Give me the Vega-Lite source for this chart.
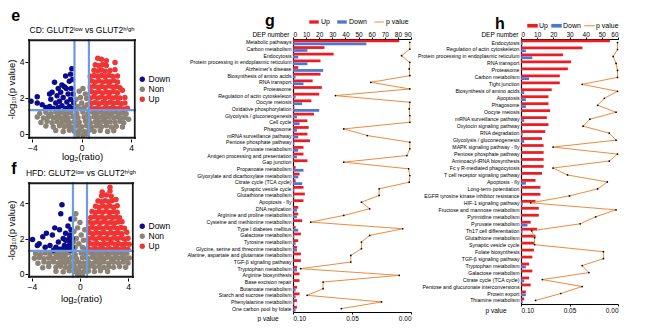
{
"$schema":"https://vega.github.io/schema/vega-lite/v6.json",
"padding":{"left":6,"top":8,"right":0,"bottom":0},
"config":{"font":"Liberation Sans, DejaVu Sans","view":{"stroke":null},"axis":{"grid":false,"domainColor":"black","tickColor":"black","labelColor":"black","titleColor":"black","titleFontWeight":"normal"},"legend":{"labelColor":"black"},"title":{"color":"black"}},
"datasets":{
"e":[
{"x":-3.4,"y":1.12,"c":"Non"},{"x":-2.9,"y":1.18,"c":"Non"},{"x":-2.5,"y":1.1,"c":"Non"},{"x":-2.1,"y":1.2,"c":"Non"},{"x":-1.8,"y":1.13,"c":"Non"},{"x":-1.5,"y":1.19,"c":"Non"},{"x":-1.2,"y":1.1,"c":"Non"},{"x":-0.9,"y":1.17,"c":"Non"},{"x":-0.4,"y":1.12,"c":"Non"},{"x":0.1,"y":1.2,"c":"Non"},{"x":0.5,"y":1.1,"c":"Non"},{"x":0.9,"y":1.18,"c":"Non"},{"x":1.2,"y":1.12,"c":"Non"},{"x":1.5,"y":1.2,"c":"Non"},{"x":1.8,"y":1.1,"c":"Non"},{"x":2.1,"y":1.17,"c":"Non"},{"x":2.4,"y":1.12,"c":"Non"},{"x":2.7,"y":1.2,"c":"Non"},{"x":3.0,"y":1.1,"c":"Non"},{"x":3.3,"y":1.16,"c":"Non"},{"x":3.6,"y":1.1,"c":"Non"},
{"x":-3.6,"y":0.92,"c":"Non"},{"x":-3.1,"y":0.86,"c":"Non"},{"x":-2.7,"y":0.94,"c":"Non"},{"x":-2.3,"y":0.88,"c":"Non"},{"x":-2.0,"y":0.93,"c":"Non"},{"x":-1.7,"y":0.86,"c":"Non"},{"x":-1.4,"y":0.91,"c":"Non"},{"x":-1.1,"y":0.87,"c":"Non"},{"x":-0.7,"y":0.94,"c":"Non"},{"x":-0.3,"y":0.88,"c":"Non"},{"x":0.2,"y":0.92,"c":"Non"},{"x":0.6,"y":0.86,"c":"Non"},{"x":1.0,"y":0.93,"c":"Non"},{"x":1.3,"y":0.88,"c":"Non"},{"x":1.6,"y":0.92,"c":"Non"},{"x":1.9,"y":0.86,"c":"Non"},{"x":2.2,"y":0.94,"c":"Non"},{"x":2.6,"y":0.88,"c":"Non"},{"x":2.9,"y":0.92,"c":"Non"},{"x":3.2,"y":0.86,"c":"Non"},{"x":3.5,"y":0.9,"c":"Non"},{"x":3.8,"y":0.8,"c":"Non"},
{"x":-3.3,"y":0.62,"c":"Non"},{"x":-2.8,"y":0.68,"c":"Non"},{"x":-2.4,"y":0.6,"c":"Non"},{"x":-2.0,"y":0.67,"c":"Non"},{"x":-1.6,"y":0.63,"c":"Non"},{"x":-1.3,"y":0.69,"c":"Non"},{"x":-1.0,"y":0.61,"c":"Non"},{"x":-0.6,"y":0.66,"c":"Non"},{"x":-0.2,"y":0.63,"c":"Non"},{"x":0.3,"y":0.68,"c":"Non"},{"x":0.7,"y":0.6,"c":"Non"},{"x":1.1,"y":0.66,"c":"Non"},{"x":1.4,"y":0.62,"c":"Non"},{"x":1.7,"y":0.68,"c":"Non"},{"x":2.0,"y":0.61,"c":"Non"},{"x":2.3,"y":0.66,"c":"Non"},{"x":2.7,"y":0.63,"c":"Non"},{"x":3.1,"y":0.68,"c":"Non"},{"x":3.4,"y":0.6,"c":"Non"},
{"x":-2.9,"y":0.42,"c":"Non"},{"x":-2.3,"y":0.36,"c":"Non"},{"x":-1.8,"y":0.43,"c":"Non"},{"x":-1.4,"y":0.38,"c":"Non"},{"x":-1.1,"y":0.44,"c":"Non"},{"x":-0.8,"y":0.37,"c":"Non"},{"x":-0.4,"y":0.42,"c":"Non"},{"x":0.0,"y":0.38,"c":"Non"},{"x":0.4,"y":0.43,"c":"Non"},{"x":0.8,"y":0.36,"c":"Non"},{"x":1.2,"y":0.42,"c":"Non"},{"x":1.6,"y":0.38,"c":"Non"},{"x":2.0,"y":0.44,"c":"Non"},{"x":2.4,"y":0.37,"c":"Non"},{"x":2.8,"y":0.41,"c":"Non"},{"x":3.3,"y":0.36,"c":"Non"},
{"x":-2.1,"y":0.17,"c":"Non"},{"x":-1.5,"y":0.12,"c":"Non"},{"x":-1.0,"y":0.18,"c":"Non"},{"x":-0.6,"y":0.13,"c":"Non"},{"x":-0.2,"y":0.16,"c":"Non"},{"x":0.2,"y":0.12,"c":"Non"},{"x":0.6,"y":0.18,"c":"Non"},{"x":1.0,"y":0.13,"c":"Non"},{"x":1.5,"y":0.17,"c":"Non"},{"x":2.1,"y":0.12,"c":"Non"},{"x":2.6,"y":0.16,"c":"Non"},
{"x":-0.3,"y":-0.05,"c":"Non"},{"x":0.1,"y":-0.08,"c":"Non"},{"x":0.4,"y":-0.02,"c":"Non"},
{"x":-0.3,"y":1.5,"c":"Non"},{"x":0.0,"y":1.7,"c":"Non"},{"x":0.2,"y":1.45,"c":"Non"},{"x":-0.1,"y":2.0,"c":"Non"},{"x":0.3,"y":2.2,"c":"Non"},{"x":-0.45,"y":1.9,"c":"Non"},{"x":0.45,"y":1.6,"c":"Non"},{"x":0.1,"y":2.5,"c":"Non"},{"x":-0.2,"y":2.35,"c":"Non"},{"x":0.4,"y":1.95,"c":"Non"},{"x":-0.5,"y":1.45,"c":"Non"},{"x":0.0,"y":1.35,"c":"Non"},
{"x":-4.1,"y":1.8,"c":"Down"},{"x":-3.6,"y":2.05,"c":"Down"},{"x":-3.6,"y":1.7,"c":"Down"},{"x":-3.2,"y":1.6,"c":"Down"},{"x":-2.9,"y":1.45,"c":"Down"},{"x":-2.6,"y":1.5,"c":"Down"},{"x":-2.5,"y":1.9,"c":"Down"},{"x":-2.4,"y":2.3,"c":"Down"},{"x":-2.2,"y":2.85,"c":"Down"},{"x":-2.3,"y":1.4,"c":"Down"},{"x":-2.1,"y":1.7,"c":"Down"},{"x":-2.0,"y":2.1,"c":"Down"},{"x":-1.9,"y":1.45,"c":"Down"},{"x":-1.8,"y":1.8,"c":"Down"},{"x":-1.7,"y":2.3,"c":"Down"},{"x":-1.6,"y":1.55,"c":"Down"},{"x":-1.5,"y":2.0,"c":"Down"},{"x":-1.4,"y":2.6,"c":"Down"},{"x":-1.3,"y":3.2,"c":"Down"},{"x":-1.3,"y":1.4,"c":"Down"},{"x":-1.2,"y":1.75,"c":"Down"},{"x":-1.1,"y":2.2,"c":"Down"},{"x":-1.0,"y":2.9,"c":"Down"},{"x":-1.0,"y":1.5,"c":"Down"},{"x":-0.9,"y":1.9,"c":"Down"},{"x":-0.85,"y":2.5,"c":"Down"},{"x":-0.8,"y":3.6,"c":"Down"},{"x":-0.75,"y":3.0,"c":"Down"},{"x":-0.7,"y":1.4,"c":"Down"},{"x":-0.7,"y":2.2,"c":"Down"},{"x":-0.65,"y":1.7,"c":"Down"},{"x":-1.25,"y":2.5,"c":"Down"},{"x":-1.6,"y":2.7,"c":"Down"},{"x":-1.9,"y":2.5,"c":"Down"},{"x":-2.6,"y":2.2,"c":"Down"},{"x":-0.9,"y":3.3,"c":"Down"},
{"x":0.7,"y":1.42,"c":"Up"},{"x":1.0,"y":1.38,"c":"Up"},{"x":1.3,"y":1.44,"c":"Up"},{"x":1.6,"y":1.37,"c":"Up"},{"x":1.9,"y":1.43,"c":"Up"},{"x":2.2,"y":1.39,"c":"Up"},{"x":2.5,"y":1.45,"c":"Up"},{"x":2.8,"y":1.38,"c":"Up"},{"x":3.1,"y":1.42,"c":"Up"},{"x":3.4,"y":1.37,"c":"Up"},{"x":3.7,"y":1.41,"c":"Up"},
{"x":0.8,"y":1.68,"c":"Up"},{"x":1.1,"y":1.73,"c":"Up"},{"x":1.4,"y":1.66,"c":"Up"},{"x":1.7,"y":1.72,"c":"Up"},{"x":2.0,"y":1.67,"c":"Up"},{"x":2.3,"y":1.74,"c":"Up"},{"x":2.6,"y":1.68,"c":"Up"},{"x":2.9,"y":1.72,"c":"Up"},{"x":3.2,"y":1.66,"c":"Up"},{"x":3.5,"y":1.7,"c":"Up"},
{"x":0.7,"y":1.98,"c":"Up"},{"x":1.0,"y":2.04,"c":"Up"},{"x":1.3,"y":1.97,"c":"Up"},{"x":1.6,"y":2.03,"c":"Up"},{"x":1.9,"y":1.96,"c":"Up"},{"x":2.2,"y":2.05,"c":"Up"},{"x":2.5,"y":1.98,"c":"Up"},{"x":2.8,"y":2.02,"c":"Up"},{"x":3.1,"y":1.97,"c":"Up"},{"x":3.5,"y":2.0,"c":"Up"},
{"x":0.8,"y":2.32,"c":"Up"},{"x":1.1,"y":2.27,"c":"Up"},{"x":1.4,"y":2.33,"c":"Up"},{"x":1.7,"y":2.26,"c":"Up"},{"x":2.0,"y":2.31,"c":"Up"},{"x":2.3,"y":2.28,"c":"Up"},{"x":2.6,"y":2.34,"c":"Up"},{"x":2.9,"y":2.27,"c":"Up"},{"x":3.3,"y":2.4,"c":"Up"},
{"x":0.7,"y":2.58,"c":"Up"},{"x":1.0,"y":2.63,"c":"Up"},{"x":1.3,"y":2.57,"c":"Up"},{"x":1.6,"y":2.62,"c":"Up"},{"x":1.9,"y":2.56,"c":"Up"},{"x":2.2,"y":2.64,"c":"Up"},{"x":2.5,"y":2.58,"c":"Up"},{"x":2.8,"y":2.62,"c":"Up"},{"x":3.1,"y":2.55,"c":"Up"},
{"x":0.8,"y":2.92,"c":"Up"},{"x":1.1,"y":2.87,"c":"Up"},{"x":1.4,"y":2.93,"c":"Up"},{"x":1.7,"y":2.86,"c":"Up"},{"x":2.0,"y":2.91,"c":"Up"},{"x":2.3,"y":2.88,"c":"Up"},{"x":2.6,"y":2.94,"c":"Up"},{"x":2.9,"y":2.86,"c":"Up"},
{"x":0.7,"y":3.18,"c":"Up"},{"x":1.0,"y":3.23,"c":"Up"},{"x":1.3,"y":3.17,"c":"Up"},{"x":1.6,"y":3.22,"c":"Up"},{"x":1.9,"y":3.16,"c":"Up"},{"x":2.2,"y":3.24,"c":"Up"},{"x":2.5,"y":3.18,"c":"Up"},{"x":2.9,"y":3.2,"c":"Up"},
{"x":1.0,"y":3.52,"c":"Up"},{"x":1.3,"y":3.47,"c":"Up"},{"x":1.6,"y":3.53,"c":"Up"},{"x":1.9,"y":3.46,"c":"Up"},{"x":2.3,"y":3.5,"c":"Up"},{"x":2.7,"y":3.55,"c":"Up"},
{"x":1.1,"y":3.82,"c":"Up"},{"x":1.4,"y":3.77,"c":"Up"},{"x":1.7,"y":3.83,"c":"Up"},{"x":2.0,"y":3.78,"c":"Up"},{"x":2.7,"y":3.95,"c":"Up"},
{"x":1.3,"y":4.18,"c":"Up"},{"x":1.6,"y":4.12,"c":"Up"},{"x":2.0,"y":4.05,"c":"Up"}
],
"f":[
{"x":-3.7,"y":1.15,"c":"Non"},{"x":-3.3,"y":1.1,"c":"Non"},{"x":-2.9,"y":1.18,"c":"Non"},{"x":-2.5,"y":1.12,"c":"Non"},{"x":-2.1,"y":1.19,"c":"Non"},{"x":-1.8,"y":1.1,"c":"Non"},{"x":-1.5,"y":1.17,"c":"Non"},{"x":-1.2,"y":1.12,"c":"Non"},{"x":-0.9,"y":1.2,"c":"Non"},{"x":-0.4,"y":1.1,"c":"Non"},{"x":0.1,"y":1.18,"c":"Non"},{"x":0.5,"y":1.12,"c":"Non"},{"x":0.9,"y":1.19,"c":"Non"},{"x":1.2,"y":1.1,"c":"Non"},{"x":1.5,"y":1.17,"c":"Non"},{"x":1.8,"y":1.12,"c":"Non"},{"x":2.1,"y":1.2,"c":"Non"},{"x":2.4,"y":1.1,"c":"Non"},{"x":2.7,"y":1.18,"c":"Non"},{"x":3.0,"y":1.12,"c":"Non"},{"x":3.3,"y":1.19,"c":"Non"},{"x":3.6,"y":1.1,"c":"Non"},{"x":3.9,"y":1.16,"c":"Non"},
{"x":-3.8,"y":0.88,"c":"Non"},{"x":-3.4,"y":0.93,"c":"Non"},{"x":-3.0,"y":0.86,"c":"Non"},{"x":-2.6,"y":0.92,"c":"Non"},{"x":-2.3,"y":0.87,"c":"Non"},{"x":-2.0,"y":0.94,"c":"Non"},{"x":-1.7,"y":0.88,"c":"Non"},{"x":-1.4,"y":0.92,"c":"Non"},{"x":-1.1,"y":0.86,"c":"Non"},{"x":-0.7,"y":0.93,"c":"Non"},{"x":-0.3,"y":0.87,"c":"Non"},{"x":0.2,"y":0.92,"c":"Non"},{"x":0.6,"y":0.88,"c":"Non"},{"x":1.0,"y":0.94,"c":"Non"},{"x":1.3,"y":0.86,"c":"Non"},{"x":1.6,"y":0.91,"c":"Non"},{"x":1.9,"y":0.87,"c":"Non"},{"x":2.2,"y":0.93,"c":"Non"},{"x":2.6,"y":0.86,"c":"Non"},{"x":2.9,"y":0.92,"c":"Non"},{"x":3.2,"y":0.88,"c":"Non"},{"x":3.5,"y":0.93,"c":"Non"},{"x":3.8,"y":0.86,"c":"Non"},{"x":4.1,"y":0.9,"c":"Non"},
{"x":-3.5,"y":0.6,"c":"Non"},{"x":-3.0,"y":0.67,"c":"Non"},{"x":-2.6,"y":0.62,"c":"Non"},{"x":-2.2,"y":0.68,"c":"Non"},{"x":-1.8,"y":0.61,"c":"Non"},{"x":-1.5,"y":0.66,"c":"Non"},{"x":-1.2,"y":0.63,"c":"Non"},{"x":-0.9,"y":0.68,"c":"Non"},{"x":-0.5,"y":0.6,"c":"Non"},{"x":-0.1,"y":0.66,"c":"Non"},{"x":0.3,"y":0.62,"c":"Non"},{"x":0.7,"y":0.68,"c":"Non"},{"x":1.1,"y":0.61,"c":"Non"},{"x":1.4,"y":0.67,"c":"Non"},{"x":1.7,"y":0.63,"c":"Non"},{"x":2.0,"y":0.68,"c":"Non"},{"x":2.4,"y":0.6,"c":"Non"},{"x":2.8,"y":0.66,"c":"Non"},{"x":3.2,"y":0.62,"c":"Non"},{"x":3.6,"y":0.67,"c":"Non"},{"x":4.0,"y":0.62,"c":"Non"},
{"x":-3.1,"y":0.35,"c":"Non"},{"x":-2.6,"y":0.42,"c":"Non"},{"x":-2.0,"y":0.38,"c":"Non"},{"x":-1.6,"y":0.43,"c":"Non"},{"x":-1.2,"y":0.37,"c":"Non"},{"x":-0.8,"y":0.42,"c":"Non"},{"x":-0.4,"y":0.36,"c":"Non"},{"x":0.0,"y":0.41,"c":"Non"},{"x":0.4,"y":0.37,"c":"Non"},{"x":0.8,"y":0.43,"c":"Non"},{"x":1.2,"y":0.38,"c":"Non"},{"x":1.6,"y":0.42,"c":"Non"},{"x":2.0,"y":0.36,"c":"Non"},{"x":2.4,"y":0.41,"c":"Non"},{"x":2.8,"y":0.37,"c":"Non"},{"x":3.3,"y":0.42,"c":"Non"},{"x":3.8,"y":0.38,"c":"Non"},
{"x":-2.0,"y":0.15,"c":"Non"},{"x":-1.4,"y":0.12,"c":"Non"},{"x":-0.9,"y":0.18,"c":"Non"},{"x":-0.5,"y":0.13,"c":"Non"},{"x":-0.1,"y":0.17,"c":"Non"},{"x":0.3,"y":0.12,"c":"Non"},{"x":0.7,"y":0.16,"c":"Non"},{"x":1.2,"y":0.13,"c":"Non"},{"x":1.7,"y":0.18,"c":"Non"},{"x":2.3,"y":0.14,"c":"Non"},
{"x":-0.2,"y":-0.05,"c":"Non"},{"x":0.2,"y":-0.03,"c":"Non"},
{"x":-0.4,"y":1.5,"c":"Non"},{"x":-0.1,"y":1.7,"c":"Non"},{"x":0.2,"y":1.5,"c":"Non"},{"x":-0.3,"y":2.0,"c":"Non"},{"x":0.1,"y":2.2,"c":"Non"},{"x":-0.5,"y":2.4,"c":"Non"},{"x":0.3,"y":1.9,"c":"Non"},{"x":-0.2,"y":2.6,"c":"Non"},{"x":0.0,"y":2.9,"c":"Non"},{"x":-0.45,"y":3.1,"c":"Non"},{"x":-0.35,"y":3.4,"c":"Non"},{"x":0.4,"y":2.5,"c":"Non"},{"x":0.45,"y":1.4,"c":"Non"},{"x":-0.55,"y":1.8,"c":"Non"},
{"x":-3.95,"y":1.95,"c":"Down"},{"x":-3.55,"y":1.6,"c":"Down"},{"x":-3.4,"y":1.7,"c":"Down"},{"x":-3.1,"y":2.1,"c":"Down"},{"x":-2.8,"y":2.3,"c":"Down"},{"x":-2.9,"y":1.5,"c":"Down"},{"x":-2.5,"y":1.6,"c":"Down"},{"x":-2.3,"y":2.2,"c":"Down"},{"x":-2.1,"y":2.6,"c":"Down"},{"x":-2.0,"y":1.5,"c":"Down"},{"x":-1.8,"y":1.8,"c":"Down"},{"x":-1.7,"y":2.5,"c":"Down"},{"x":-1.6,"y":3.4,"c":"Down"},{"x":-1.5,"y":3.9,"c":"Down"},{"x":-1.5,"y":1.4,"c":"Down"},{"x":-1.4,"y":2.0,"c":"Down"},{"x":-1.3,"y":1.6,"c":"Down"},{"x":-1.2,"y":2.3,"c":"Down"},{"x":-1.1,"y":1.45,"c":"Down"},{"x":-1.0,"y":1.9,"c":"Down"},{"x":-1.0,"y":2.7,"c":"Down"},{"x":-0.9,"y":1.6,"c":"Down"},{"x":-0.85,"y":2.2,"c":"Down"},{"x":-0.8,"y":1.35,"c":"Down"},{"x":-0.75,"y":2.5,"c":"Down"},{"x":-0.7,"y":1.8,"c":"Down"},{"x":-0.65,"y":2.0,"c":"Down"},{"x":-0.65,"y":1.5,"c":"Down"},{"x":-1.2,"y":1.9,"c":"Down"},{"x":-0.9,"y":2.0,"c":"Down"},{"x":-1.4,"y":1.4,"c":"Down"},{"x":-1.7,"y":1.4,"c":"Down"},{"x":-2.2,"y":1.35,"c":"Down"},{"x":-0.75,"y":3.1,"c":"Down"},
{"x":0.7,"y":1.42,"c":"Up"},{"x":1.0,"y":1.37,"c":"Up"},{"x":1.3,"y":1.43,"c":"Up"},{"x":1.6,"y":1.38,"c":"Up"},{"x":1.9,"y":1.44,"c":"Up"},{"x":2.2,"y":1.37,"c":"Up"},{"x":2.5,"y":1.42,"c":"Up"},{"x":2.8,"y":1.38,"c":"Up"},{"x":3.1,"y":1.44,"c":"Up"},{"x":3.4,"y":1.37,"c":"Up"},{"x":3.7,"y":1.42,"c":"Up"},{"x":4.0,"y":1.38,"c":"Up"},
{"x":0.8,"y":1.72,"c":"Up"},{"x":1.1,"y":1.67,"c":"Up"},{"x":1.4,"y":1.73,"c":"Up"},{"x":1.7,"y":1.66,"c":"Up"},{"x":2.0,"y":1.72,"c":"Up"},{"x":2.3,"y":1.68,"c":"Up"},{"x":2.6,"y":1.74,"c":"Up"},{"x":2.9,"y":1.67,"c":"Up"},{"x":3.2,"y":1.72,"c":"Up"},{"x":3.5,"y":1.66,"c":"Up"},{"x":3.8,"y":1.71,"c":"Up"},{"x":4.1,"y":1.68,"c":"Up"},
{"x":0.7,"y":1.98,"c":"Up"},{"x":1.0,"y":2.03,"c":"Up"},{"x":1.3,"y":1.97,"c":"Up"},{"x":1.6,"y":2.04,"c":"Up"},{"x":1.9,"y":1.98,"c":"Up"},{"x":2.2,"y":2.02,"c":"Up"},{"x":2.5,"y":1.96,"c":"Up"},{"x":2.8,"y":2.03,"c":"Up"},{"x":3.1,"y":1.98,"c":"Up"},{"x":3.4,"y":2.04,"c":"Up"},{"x":3.7,"y":1.97,"c":"Up"},{"x":4.0,"y":2.02,"c":"Up"},
{"x":0.8,"y":2.32,"c":"Up"},{"x":1.1,"y":2.27,"c":"Up"},{"x":1.4,"y":2.33,"c":"Up"},{"x":1.7,"y":2.28,"c":"Up"},{"x":2.0,"y":2.34,"c":"Up"},{"x":2.3,"y":2.27,"c":"Up"},{"x":2.6,"y":2.32,"c":"Up"},{"x":2.9,"y":2.28,"c":"Up"},{"x":3.2,"y":2.33,"c":"Up"},{"x":3.5,"y":2.27,"c":"Up"},{"x":3.9,"y":2.35,"c":"Up"},
{"x":0.7,"y":2.58,"c":"Up"},{"x":1.0,"y":2.63,"c":"Up"},{"x":1.3,"y":2.57,"c":"Up"},{"x":1.6,"y":2.62,"c":"Up"},{"x":1.9,"y":2.56,"c":"Up"},{"x":2.2,"y":2.63,"c":"Up"},{"x":2.5,"y":2.58,"c":"Up"},{"x":2.8,"y":2.64,"c":"Up"},{"x":3.1,"y":2.57,"c":"Up"},{"x":3.4,"y":2.62,"c":"Up"},{"x":3.7,"y":2.58,"c":"Up"},
{"x":0.8,"y":2.92,"c":"Up"},{"x":1.1,"y":2.87,"c":"Up"},{"x":1.4,"y":2.93,"c":"Up"},{"x":1.7,"y":2.88,"c":"Up"},{"x":2.0,"y":2.94,"c":"Up"},{"x":2.3,"y":2.87,"c":"Up"},{"x":2.6,"y":2.92,"c":"Up"},{"x":2.9,"y":2.88,"c":"Up"},{"x":3.2,"y":2.93,"c":"Up"},{"x":3.5,"y":2.95,"c":"Up"},
{"x":0.9,"y":3.18,"c":"Up"},{"x":1.2,"y":3.23,"c":"Up"},{"x":1.5,"y":3.17,"c":"Up"},{"x":1.8,"y":3.22,"c":"Up"},{"x":2.1,"y":3.16,"c":"Up"},{"x":2.4,"y":3.23,"c":"Up"},{"x":2.7,"y":3.18,"c":"Up"},{"x":3.0,"y":3.22,"c":"Up"},{"x":3.3,"y":3.17,"c":"Up"},
{"x":1.0,"y":3.52,"c":"Up"},{"x":1.3,"y":3.47,"c":"Up"},{"x":1.6,"y":3.53,"c":"Up"},{"x":1.9,"y":3.48,"c":"Up"},{"x":2.2,"y":3.54,"c":"Up"},{"x":2.5,"y":3.47,"c":"Up"},{"x":2.8,"y":3.52,"c":"Up"},{"x":3.1,"y":3.48,"c":"Up"},
{"x":1.3,"y":3.82,"c":"Up"},{"x":1.6,"y":3.77,"c":"Up"},{"x":1.9,"y":3.83,"c":"Up"},{"x":2.2,"y":3.78,"c":"Up"},{"x":2.5,"y":3.84,"c":"Up"},{"x":2.8,"y":3.77,"c":"Up"},{"x":3.1,"y":3.85,"c":"Up"},
{"x":1.5,"y":4.12,"c":"Up"},{"x":1.8,"y":4.07,"c":"Up"},{"x":2.1,"y":4.13,"c":"Up"},{"x":2.4,"y":4.08,"c":"Up"},{"x":2.7,"y":4.14,"c":"Up"},{"x":3.0,"y":4.2,"c":"Up"},
{"x":1.8,"y":4.42,"c":"Up"},{"x":2.2,"y":4.45,"c":"Up"},{"x":2.6,"y":4.38,"c":"Up"},
{"x":1.85,"y":4.62,"c":"Up"},{"x":2.5,"y":4.68,"c":"Up"},{"x":2.5,"y":4.9,"c":"Up"}
],
"g":[
{"k":"Metabolic pathways","Up":81,"Down":56,"p":0.001},
{"k":"Carbon metabolism","Up":24,"Down":11,"p":0.001},
{"k":"Endocytosis","Up":31,"Down":4,"p":0.008},
{"k":"Protein processing in endoplasmic reticulum","Up":21,"Down":11,"p":0.001},
{"k":"Alzheimer's disease","Up":4,"Down":23,"p":0.0015},
{"k":"Biosynthesis of amino acids","Up":21,"Down":2,"p":0.001},
{"k":"RNA transport","Up":15,"Down":8,"p":0.034},
{"k":"Proteasome","Up":22,"Down":0,"p":0.001},
{"k":"Regulation of actin cytoskeleton","Up":20,"Down":2,"p":0.064},
{"k":"Oocyte meiosis","Up":14,"Down":7,"p":0.001},
{"k":"Oxidative phosphorylation","Up":1,"Down":20,"p":0.0015},
{"k":"Glycolysis / gluconeogenesis","Up":16,"Down":3,"p":0.001},
{"k":"Cell cycle","Up":11,"Down":5,"p":0.001},
{"k":"Phagosome","Up":12,"Down":3,"p":0.057},
{"k":"mRNA surveillance pathway","Up":11,"Down":4,"p":0.037},
{"k":"Pentose phosphate pathway","Up":13,"Down":1,"p":0.001},
{"k":"Pyruvate metabolism","Up":8,"Down":4,"p":0.001},
{"k":"Antigen processing and presentation","Up":8,"Down":3,"p":0.0035},
{"k":"Gap junction","Up":11,"Down":0,"p":0.057},
{"k":"Propanoate metabolism","Up":2,"Down":8,"p":0.002},
{"k":"Glyoxylate and dicarboxylate metabolism","Up":5,"Down":4,"p":0.001},
{"k":"Citrate cycle (TCA cycle)","Up":2,"Down":7,"p":0.0015},
{"k":"Synaptic vesicle cycle","Up":8,"Down":1,"p":0.027},
{"k":"Glutathione metabolism","Up":9,"Down":1,"p":0.027},
{"k":"Apoptosis - fly","Up":8,"Down":0,"p":0.042},
{"k":"DNA replication","Up":4,"Down":3,"p":0.035},
{"k":"Arginine and proline metabolism","Up":4,"Down":3,"p":0.057},
{"k":"Cysteine and methionine metabolism","Up":7,"Down":0,"p":0.085},
{"k":"Type I diabetes mellitus","Up":2,"Down":4,"p":0.007},
{"k":"Galactose metabolism","Up":6,"Down":1,"p":0.035},
{"k":"Tyrosine metabolism","Up":4,"Down":2,"p":0.042},
{"k":"Glycine, serine and threonine metabolism","Up":3,"Down":3,"p":0.042},
{"k":"Alanine, aspartate and glutamate metabolism","Up":6,"Down":0,"p":0.051},
{"k":"TGF-β signaling pathway","Up":6,"Down":0,"p":0.051},
{"k":"Tryptophan metabolism","Up":3,"Down":3,"p":0.0935},
{"k":"Arginine biosynthesis","Up":5,"Down":0,"p":0.01},
{"k":"Base excision repair","Up":5,"Down":0,"p":0.0745},
{"k":"Butanoate metabolism","Up":3,"Down":2,"p":0.0745},
{"k":"Starch and sucrose metabolism","Up":5,"Down":2,"p":0.088},
{"k":"Phenylalanine metabolism","Up":3,"Down":1,"p":0.025},
{"k":"One carbon pool by folate","Up":3,"Down":2,"p":0.059}
],
"h":[
{"k":"Endocytosis","Up":55,"Down":1,"p":0.0005},
{"k":"Regulation of actin cytoskeleton","Up":38,"Down":3,"p":0.0005},
{"k":"Protein processing in endoplasmic reticulum","Up":26,"Down":7,"p":0.005},
{"k":"RNA transport","Up":31,"Down":0,"p":0.002},
{"k":"Proteasome","Up":29,"Down":0,"p":0.0005},
{"k":"Carbon metabolism","Up":24,"Down":5,"p":0.0005},
{"k":"Tight junction","Up":24,"Down":0,"p":0.037},
{"k":"Biosynthesis of amino acids","Up":19,"Down":2,"p":0.0005},
{"k":"Apoptosis","Up":17,"Down":3,"p":0.014},
{"k":"Phagosome","Up":17,"Down":3,"p":0.021},
{"k":"Oocyte meiosis","Up":18,"Down":0,"p":0.002},
{"k":"mRNA surveillance pathway","Up":16,"Down":2,"p":0.029},
{"k":"Oxytocin signaling pathway","Up":17,"Down":0,"p":0.036},
{"k":"RNA degradation","Up":15,"Down":1,"p":0.009},
{"k":"Glycolysis / gluconeogenesis","Up":13,"Down":2,"p":0.002},
{"k":"MAPK signaling pathway - fly","Up":14,"Down":0,"p":0.067},
{"k":"Pentose phosphate pathway","Up":14,"Down":0,"p":0.0005},
{"k":"Aminoacyl-tRNA biosynthesis","Up":14,"Down":0,"p":0.009},
{"k":"Fc γ R-mediated phagocytosis","Up":14,"Down":0,"p":0.067},
{"k":"T cell receptor signaling pathway","Up":13,"Down":0,"p":0.052},
{"k":"Apoptosis - fly","Up":9,"Down":3,"p":0.011},
{"k":"Long-term potentiation","Up":12,"Down":0,"p":0.021},
{"k":"EGFR tyrosine kinase inhibitor resistance","Up":12,"Down":0,"p":0.05},
{"k":"HIF-1 signaling pathway","Up":9,"Down":1,"p":0.09},
{"k":"Fructose and mannose metabolism","Up":11,"Down":0,"p":0.002},
{"k":"Pyrimidine metabolism","Up":11,"Down":0,"p":0.023},
{"k":"Pyruvate metabolism","Up":6,"Down":4,"p":0.039},
{"k":"Th17 cell differentiation","Up":10,"Down":1,"p":0.089},
{"k":"Glutathione metabolism","Up":9,"Down":0,"p":0.086},
{"k":"Synaptic vesicle cycle","Up":8,"Down":0,"p":0.086},
{"k":"Folate biosynthesis","Up":8,"Down":0,"p":0.015},
{"k":"TGF-β signaling pathway","Up":7,"Down":0,"p":0.015},
{"k":"Tryptophan metabolism","Up":5,"Down":3,"p":0.037},
{"k":"Galactose metabolism","Up":7,"Down":0,"p":0.03},
{"k":"Citrate cycle (TCA cycle)","Up":5,"Down":2,"p":0.078},
{"k":"Pentose and glucuronate interconversions","Up":6,"Down":0,"p":0.037},
{"k":"Protein export","Up":3,"Down":3,"p":0.059},
{"k":"Thiamine metabolism","Up":2,"Down":1,"p":0.085}
]
},
"hconcat":[
{"vconcat":[
 {"title":{"text":"e","fontSize":16,"fontWeight":"bold","anchor":"start","offset":2,"dx":5},
  "vconcat":[
  {"width":108,"height":100,
   "data":{"name":"e"},
   "title":{"text":"CD: GLUT2ˡᵒʷ vs GLUT2ʰⁱᵍʰ","fontSize":8.5,"fontWeight":"normal","anchor":"middle","offset":3},
   "layer":[
    {"mark":{"type":"circle","size":30,"opacity":1},
     "encoding":{
      "x":{"field":"x","type":"quantitative","scale":{"domain":[-4.35,4.4],"nice":false,"zero":false},"axis":{"values":[-4,-2,0,2,4],"title":"log₂(ratio)","domain":false,"tickSize":3,"labelFontSize":8.5,"titleFontSize":9.5,"labelPadding":1,"titlePadding":0}},
      "y":{"field":"y","type":"quantitative","scale":{"domain":[-0.3,5.25],"nice":false,"zero":false},"axis":{"values":[0,1,2,3,4,5],"title":"-log₁₀(p value)","domain":false,"tickSize":3,"labelFontSize":8.5,"titleFontSize":9.5,"labelPadding":1,"titlePadding":3}},
      "color":{"field":"c","type":"nominal","scale":{"domain":["Down","Non","Up"],"range":["#0B0B8C","#8C8276","#EE3535"]},"legend":{"title":null,"orient":"none","legendX":110,"legendY":36,"symbolType":"circle","symbolSize":28,"labelFontSize":8.5,"rowPadding":1,"labelOffset":2}}
     }},
    {"data":{"values":[{}]},"mark":{"type":"rule","color":"#6D9BDF","strokeWidth":2.2},"encoding":{"x":{"datum":-0.585,"type":"quantitative"}}},
    {"data":{"values":[{}]},"mark":{"type":"rule","color":"#6D9BDF","strokeWidth":2.2},"encoding":{"x":{"datum":0.585,"type":"quantitative"}}},
    {"data":{"values":[{}]},"mark":{"type":"rule","color":"#6D9BDF","strokeWidth":2.2},"encoding":{"y":{"datum":1.3,"type":"quantitative"}}},
    {"data":{"values":[{}]},"mark":{"type":"rule","color":"#1A1A1A","strokeWidth":1.8},"encoding":{"x":{"datum":-4.25,"type":"quantitative"}}},
    {"data":{"values":[{}]},"mark":{"type":"rule","color":"#1A1A1A","strokeWidth":1.8},"encoding":{"x":{"datum":4.3,"type":"quantitative"}}},
    {"data":{"values":[{}]},"mark":{"type":"rule","color":"#1A1A1A","strokeWidth":1.8},"encoding":{"y":{"datum":-0.23,"type":"quantitative"}}},
    {"data":{"values":[{}]},"mark":{"type":"rule","color":"#1A1A1A","strokeWidth":1.8},"encoding":{"y":{"datum":5.18,"type":"quantitative"}}}
   ]}
  ]},
 {"title":{"text":"f","fontSize":16,"fontWeight":"bold","anchor":"start","offset":-8,"dx":5},
  "vconcat":[
  {"width":106,"height":96,
   "data":{"name":"f"},
   "title":{"text":"HFD: GLUT2ˡᵒʷ vs GLUT2ʰⁱᵍʰ","fontSize":8.5,"fontWeight":"normal","anchor":"middle","offset":3},
   "layer":[
    {"mark":{"type":"circle","size":30,"opacity":1},
     "encoding":{
      "x":{"field":"x","type":"quantitative","scale":{"domain":[-4.33,4.5],"nice":false,"zero":false},"axis":{"values":[-4,-2,0,2,4],"title":"log₂(ratio)","domain":false,"tickSize":3,"labelFontSize":8.5,"titleFontSize":9.5,"labelPadding":1,"titlePadding":3}},
      "y":{"field":"y","type":"quantitative","scale":{"domain":[-0.23,5.19],"nice":false,"zero":false},"axis":{"values":[0,1,2,3,4,5],"title":"-log₁₀(p value)","domain":false,"tickSize":3,"labelFontSize":8.5,"titleFontSize":9.5,"labelPadding":1,"titlePadding":3}},
      "color":{"field":"c","type":"nominal","scale":{"domain":["Down","Non","Up"],"range":["#0B0B8C","#8C8276","#EE3535"]},"legend":{"title":null,"orient":"none","legendX":110,"legendY":40,"symbolType":"circle","symbolSize":28,"labelFontSize":8.5,"rowPadding":1,"labelOffset":2}}
     }},
    {"data":{"values":[{}]},"mark":{"type":"rule","color":"#6D9BDF","strokeWidth":2.2},"encoding":{"x":{"datum":-0.585,"type":"quantitative"}}},
    {"data":{"values":[{}]},"mark":{"type":"rule","color":"#6D9BDF","strokeWidth":2.2},"encoding":{"x":{"datum":0.585,"type":"quantitative"}}},
    {"data":{"values":[{}]},"mark":{"type":"rule","color":"#6D9BDF","strokeWidth":2.2},"encoding":{"y":{"datum":1.3,"type":"quantitative"}}},
    {"data":{"values":[{}]},"mark":{"type":"rule","color":"#1A1A1A","strokeWidth":1.8},"encoding":{"x":{"datum":-4.23,"type":"quantitative"}}},
    {"data":{"values":[{}]},"mark":{"type":"rule","color":"#1A1A1A","strokeWidth":1.8},"encoding":{"x":{"datum":4.4,"type":"quantitative"}}},
    {"data":{"values":[{}]},"mark":{"type":"rule","color":"#1A1A1A","strokeWidth":1.8},"encoding":{"y":{"datum":-0.16,"type":"quantitative"}}},
    {"data":{"values":[{}]},"mark":{"type":"rule","color":"#1A1A1A","strokeWidth":1.8},"encoding":{"y":{"datum":5.12,"type":"quantitative"}}}
   ]}
  ]}
 ],
 "spacing":0,
 "resolve":{"scale":{"x":"independent","y":"independent","color":"independent"},"legend":{"color":"independent"}}
},
{"hconcat":[
{"width":118,"height":273,
 "data":{"name":"g"},
 "title":{"text":"g","fontSize":16,"fontWeight":"bold","anchor":"start","frame":"group","dx":-28,"dy":12,"offset":0},
 "layer":[
  {"transform":[{"fold":["Up","Down"],"as":["dir","n"]}],
   "mark":{"type":"bar"},
   "encoding":{
    "y":{"field":"k","type":"nominal","sort":null,"scale":{"paddingInner":0.15,"paddingOuter":0.08},"axis":{"title":null,"labelFontSize":5.2,"ticks":false,"labelPadding":2,"domainWidth":1.2,"labelLimit":200}},
    "yOffset":{"field":"dir","type":"nominal","sort":["Up","Down"],"scale":{"paddingInner":0.05}},
    "x":{"field":"n","type":"quantitative","scale":{"domain":[0,90],"nice":false},"axis":{"orient":"top","values":[0,10,20,30,40,50,60,70,80,90],"title":"DEP number","titleFontSize":6.5,"titleAnchor":"start","titleAlign":"right","titleBaseline":"alphabetic","titleX":-4,"titleY":-2.5,"labelFontSize":6.5,"labelPadding":0,"tickSize":2,"domainWidth":1.2}},
    "color":{"field":"dir","type":"nominal","scale":{"domain":["Up","Down","p value"],"range":["#EC1C24","#4C78D0","#EE8B3E"]},"legend":{"title":null,"orient":"none","direction":"horizontal","legendX":16,"legendY":-22,"symbolType":"M-1,-0.35H1V0.35H-1Z","symbolSize":90,"symbolStrokeWidth":0,"labelFontSize":7,"labelOffset":2,"columnPadding":7,"encode":{"symbols":{"update":{"shape":{"signal":"datum.value === 'p value' ? 'M-1,-0.1H1V0.1H-1Z' : 'M-1,-0.35H1V0.35H-1Z'"}}}}}}
   }},
  {"encoding":{
    "y":{"field":"k","type":"nominal","sort":null},
    "x":{"field":"p","type":"quantitative","scale":{"domain":[0,0.1],"reverse":true,"nice":false,"zero":false},"axis":{"orient":"bottom","values":[0.1,0.05,0],"format":".2f","title":"p value","titleFontSize":6.5,"titleAnchor":"start","titleAlign":"right","titleBaseline":"alphabetic","titleX":-15,"titleY":8.5,"labelFontSize":6.5,"labelPadding":1,"tickSize":2,"domainWidth":1.2}}},
   "layer":[
    {"mark":{"type":"line","color":"#EE8B3E","strokeWidth":1},"encoding":{"order":{"value":null}}},
    {"mark":{"type":"circle","color":"black","size":3,"opacity":1}}
   ]}
 ],
 "resolve":{"scale":{"x":"independent"}}
},
{"width":97,"height":265,
 "data":{"name":"h"},
 "title":{"text":"h","fontSize":16,"fontWeight":"bold","anchor":"start","frame":"group","dx":-26,"dy":12,"offset":0},
 "layer":[
  {"transform":[{"fold":["Up","Down"],"as":["dir","n"]}],
   "mark":{"type":"bar"},
   "encoding":{
    "y":{"field":"k","type":"nominal","sort":null,"scale":{"paddingInner":0.15,"paddingOuter":0.08},"axis":{"title":null,"labelFontSize":5.2,"ticks":false,"labelPadding":2,"domainWidth":1.2,"labelLimit":200}},
    "yOffset":{"field":"dir","type":"nominal","sort":["Up","Down"],"scale":{"paddingInner":0.05}},
    "x":{"field":"n","type":"quantitative","scale":{"domain":[0,60],"nice":false},"axis":{"orient":"top","values":[0,10,20,30,40,50,60],"title":"DEP number","titleFontSize":6.5,"titleAnchor":"start","titleAlign":"right","titleBaseline":"alphabetic","titleX":-3,"titleY":-2.5,"labelFontSize":6.5,"labelPadding":0,"tickSize":2,"domainWidth":1.2}},
    "color":{"field":"dir","type":"nominal","scale":{"domain":["Up","Down","p value"],"range":["#EC1C24","#4C78D0","#EE8B3E"]},"legend":{"title":null,"orient":"none","direction":"horizontal","legendX":6,"legendY":-19,"symbolType":"M-1,-0.35H1V0.35H-1Z","symbolSize":110,"symbolStrokeWidth":0,"labelFontSize":7,"labelOffset":1,"columnPadding":3,"encode":{"symbols":{"update":{"shape":{"signal":"datum.value === 'p value' ? 'M-1,-0.1H1V0.1H-1Z' : 'M-1,-0.35H1V0.35H-1Z'"}}}}}}
   }},
  {"encoding":{
    "y":{"field":"k","type":"nominal","sort":null},
    "x":{"field":"p","type":"quantitative","scale":{"domain":[0,0.1],"reverse":true,"nice":false,"zero":false},"axis":{"orient":"bottom","values":[0.1,0.05,0],"format":".2f","title":"p value","titleFontSize":6.5,"titleAnchor":"start","titleAlign":"right","titleBaseline":"alphabetic","titleX":-15,"titleY":8.5,"labelFontSize":6.5,"labelPadding":1,"tickSize":2,"domainWidth":1.2}}},
   "layer":[
    {"mark":{"type":"line","color":"#EE8B3E","strokeWidth":1},"encoding":{"order":{"value":null}}},
    {"mark":{"type":"circle","color":"black","size":3,"opacity":1}}
   ]}
 ],
 "resolve":{"scale":{"x":"independent"}}
}
],
"spacing":5,
"resolve":{"scale":{"x":"independent","y":"independent","color":"independent"},"legend":{"color":"independent"}}
}
],
"spacing":15,
"resolve":{"scale":{"x":"independent","y":"independent","color":"independent"},"legend":{"color":"independent"}}
}
